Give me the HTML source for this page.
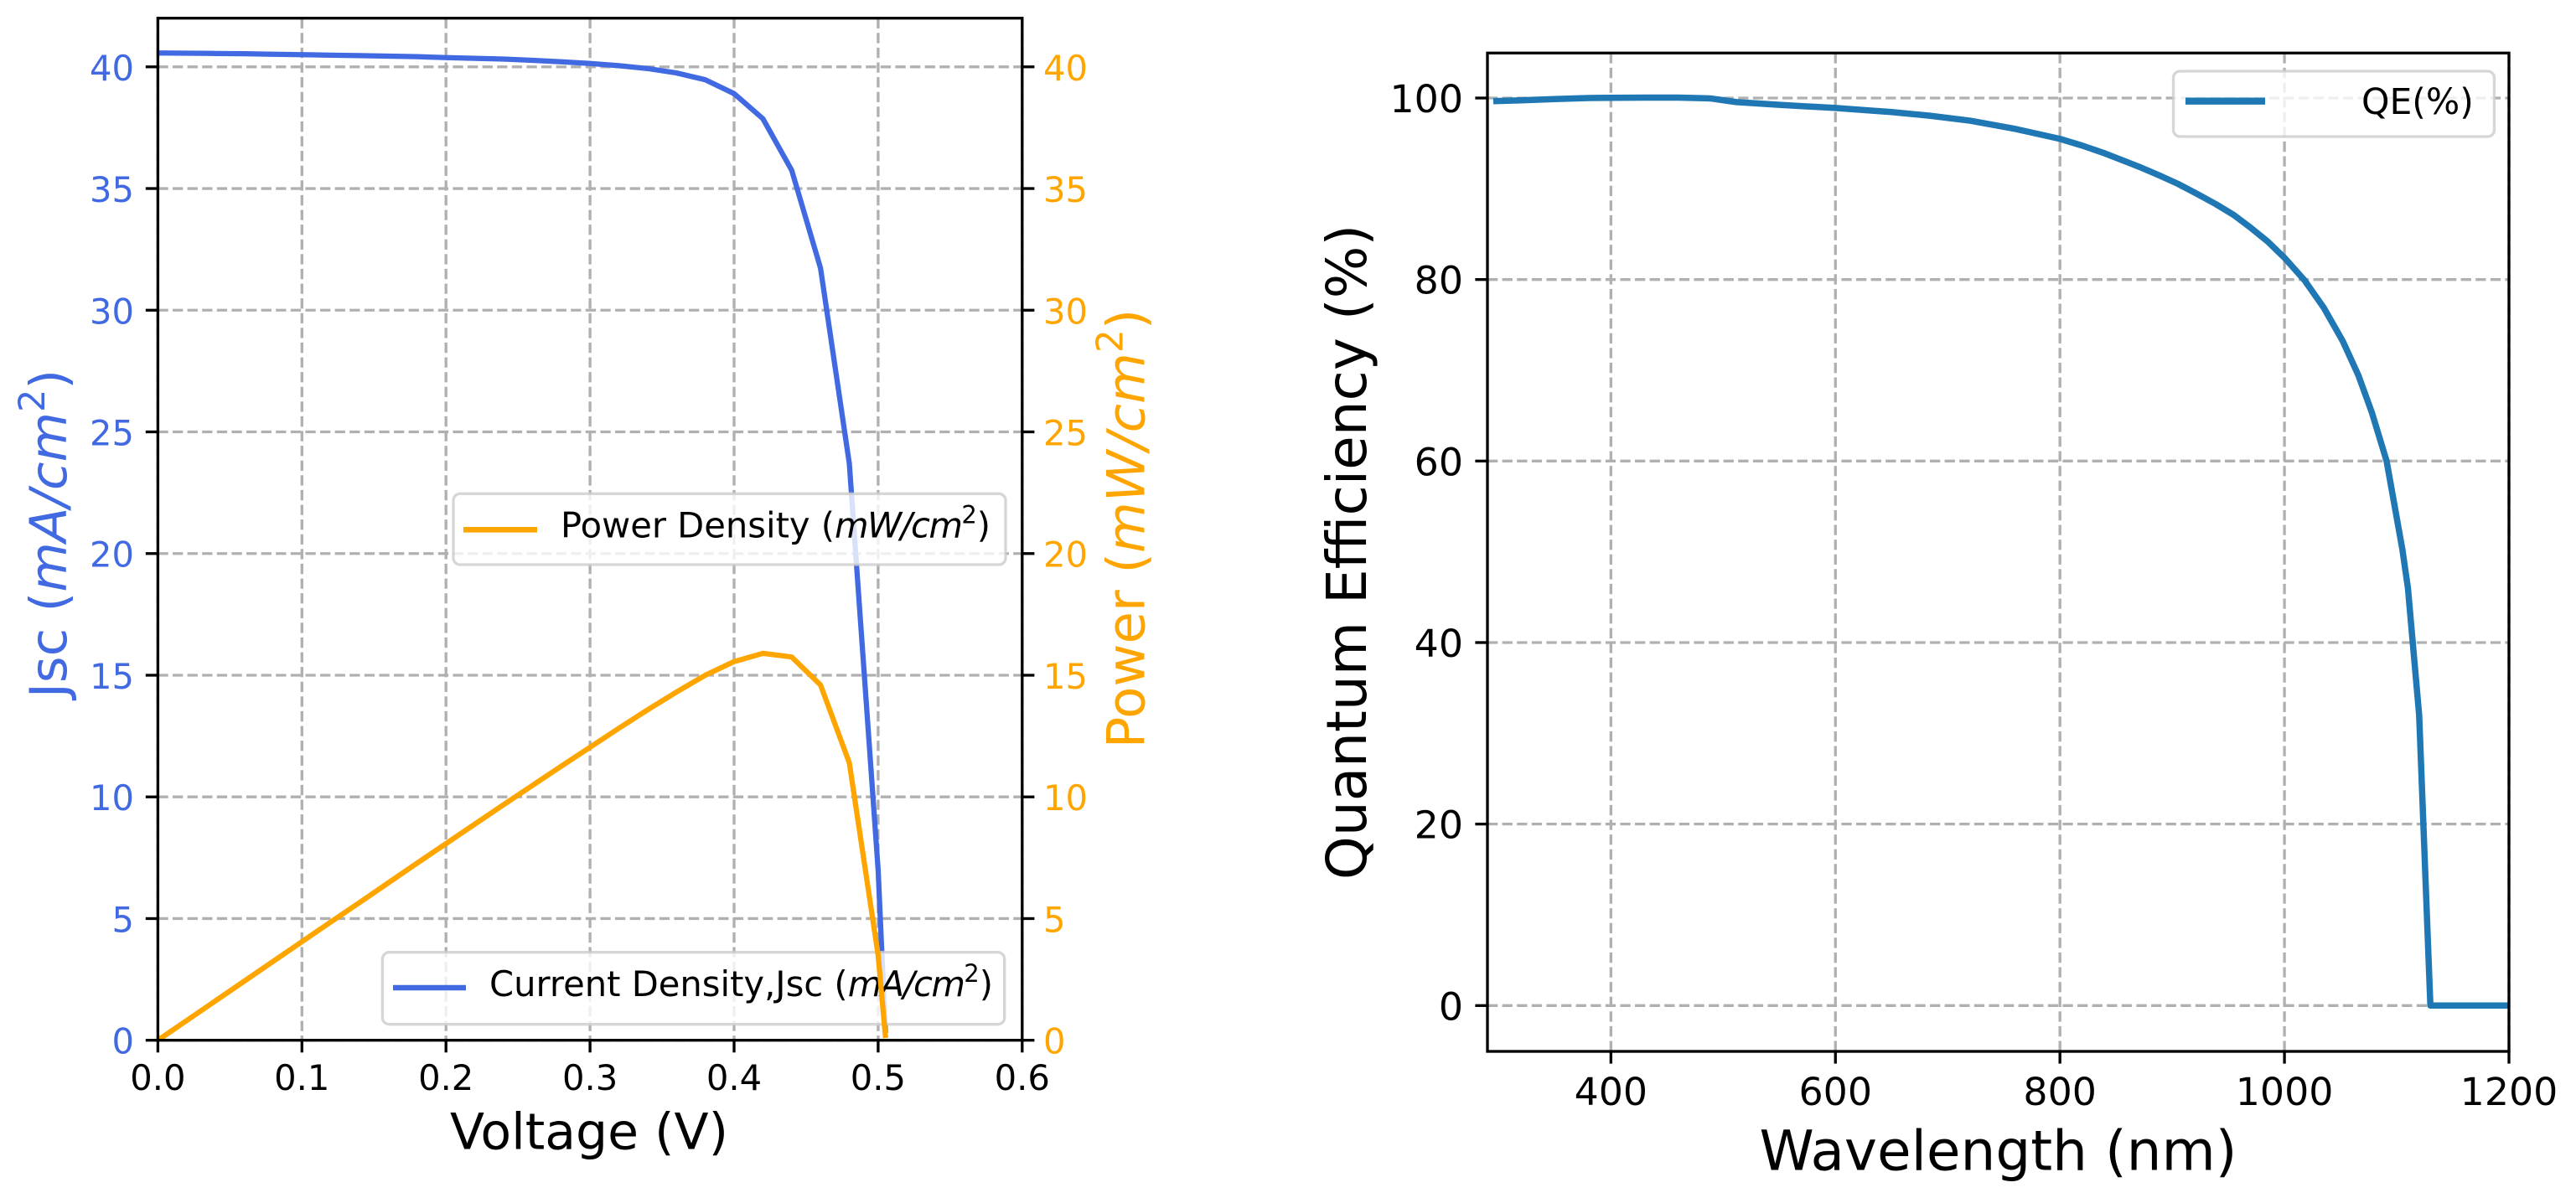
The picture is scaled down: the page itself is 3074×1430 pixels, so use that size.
<!DOCTYPE html>
<html lang="en">
<head>
<meta charset="utf-8">
<title>Current density, power density and quantum efficiency</title>
<style>
html,body{margin:0;padding:0;background:#fff;}
svg{display:block;}
text{font-family:"DejaVu Sans","Liberation Sans",sans-serif;}
.i{font-style:italic;}
.m{letter-spacing:-1.6px;}
</style>
</head>
<body>
<svg id="figure" xmlns="http://www.w3.org/2000/svg" width="3074" height="1430" viewBox="0 0 3074 1430">
  <rect x="0" y="0" width="3074" height="1430" fill="#ffffff"/>
  <defs>
    <clipPath id="clip-left"><rect x="188.4" y="21.7" width="1031.4" height="1220"/></clipPath>
    <clipPath id="clip-right"><rect x="1775" y="63.3" width="1219" height="1191.7"/></clipPath>
  </defs>

  <g id="left-chart">
    <g id="left-grid"></g>
    <g id="left-blue" clip-path="url(#clip-left)"></g>
    <g>
      <rect x="456.4" y="1136.7" width="742.3" height="86" rx="8" fill="#ffffff" fill-opacity="0.8" stroke="#cccccc" stroke-opacity="0.8" stroke-width="3.33"/>
      <line x1="469" y1="1179" x2="556" y2="1179" stroke="#4169e1" stroke-width="6.6"/>
      <text x="584" y="1189" font-size="41.67" fill="#000">Current Density,Jsc (<tspan class="i m">mA/cm</tspan><tspan font-size="29" dy="-17">2</tspan><tspan dy="17">)</tspan></text>
    </g>
    <g id="left-orange" clip-path="url(#clip-left)"></g>
    <g>
      <rect x="541" y="589.3" width="659" height="84.7" rx="8" fill="#ffffff" fill-opacity="0.8" stroke="#cccccc" stroke-opacity="0.8" stroke-width="3.33"/>
      <line x1="553" y1="632.3" x2="641" y2="632.3" stroke="#ffa500" stroke-width="6.6"/>
      <text x="669" y="641.7" font-size="41.67" fill="#000">Power Density (<tspan class="i m">mW/cm</tspan><tspan font-size="29" dy="-17">2</tspan><tspan dy="17">)</tspan></text>
    </g>
    <g id="left-axes"></g>
    <rect x="188.4" y="21.7" width="1031.4" height="1220" fill="none" stroke="#000" stroke-width="3.33"/>
    <text x="703" y="1371.7" font-size="60" text-anchor="middle" fill="#000">Voltage (V)</text>
    <text transform="translate(79,637) rotate(-90)" font-size="61" text-anchor="middle" fill="#4169e1">Jsc (<tspan class="i">mA/cm</tspan><tspan font-size="43" dy="-26">2</tspan><tspan dy="26">)</tspan></text>
    <text transform="translate(1365.5,631) rotate(-90)" font-size="62.5" text-anchor="middle" fill="#ffa500">Power (<tspan class="i">mW/cm</tspan><tspan font-size="44" dy="-26">2</tspan><tspan dy="26">)</tspan></text>
  </g>

  <g id="right-chart">
    <g id="right-grid"></g>
    <g id="right-line" clip-path="url(#clip-right)"></g>
    <g>
      <rect x="2593.5" y="85" width="383" height="78" rx="8" fill="#ffffff" fill-opacity="0.8" stroke="#cccccc" stroke-opacity="0.8" stroke-width="3.33"/>
      <line x1="2608" y1="120.7" x2="2703" y2="120.7" stroke="#1f77b4" stroke-width="8.3"/>
      <text x="2818" y="136" font-size="42.5" fill="#000">QE(%)</text>
    </g>
    <g id="right-axes"></g>
    <rect x="1775" y="63.3" width="1219" height="1191.7" fill="none" stroke="#000" stroke-width="3.33"/>
    <text x="2384.5" y="1396.7" font-size="66" text-anchor="middle" fill="#000">Wavelength (nm)</text>
    <text transform="translate(1630,659) rotate(-90)" font-size="66" text-anchor="middle" fill="#000">Quantum Efficiency (%)</text>
  </g>
</svg>

<script>
const voltage = [0,0.02,0.04,0.06,0.08,0.1,0.12,0.14,0.16,0.18,0.2,0.22,0.24,0.26,0.28,0.3,0.32,0.34,0.36,0.38,0.4,0.42,0.44,0.46,0.48,0.5,0.505];
const currentDensity = [40.57,40.56,40.55,40.54,40.52,40.5,40.48,40.46,40.44,40.42,40.38,40.35,40.32,40.27,40.21,40.14,40.05,39.93,39.75,39.47,38.9,37.87,35.75,31.73,23.7,7.0,0.4];
const powerDensity = [0,0.81,1.62,2.43,3.24,4.05,4.86,5.66,6.47,7.28,8.08,8.88,9.68,10.47,11.26,12.04,12.82,13.58,14.31,15.0,15.56,15.9,15.75,14.6,11.4,3.5,0.2];
const voltageTicks = ['0.0','0.1','0.2','0.3','0.4','0.5','0.6'];
const leftValueTicks = ['0','5','10','15','20','25','30','35','40'];
const wavelength = [298,320,350,380,400,430,460,489,512,550,600,650,684,720,760,800,820,840,871,888,905,922,939,955,970,985,1000,1018,1035,1052,1066,1078,1091,1105,1110,1120,1130,1131,1200];
const quantumEfficiency = [99.66,99.75,99.88,100,100.02,100.05,100.05,99.95,99.55,99.25,98.9,98.45,98.05,97.5,96.6,95.5,94.75,93.9,92.4,91.5,90.55,89.45,88.3,87.1,85.7,84.2,82.4,79.9,76.9,73.2,69.4,65.3,60,50.3,46,32,0,0,0];
const wavelengthTicks = ['400','600','800','1000','1200'];
const efficiencyTicks = ['0','20','40','60','80','100'];

const SVG_NS = 'http://www.w3.org/2000/svg';
const GRID_COLOR = '#b0b0b0';
const GRID_DASH = '12.3 5.3';
const SPINE = 3.33;
const TICK_LEN = 14.6;

// Axis functions
function xLeft(v){ return 188.4 + (v - 0) / 0.6 * 1031.4; }
function yLeft(v){ return 1241.7 - (v - 0) / 42 * 1220; }
function xRight(v){ return 1775 + (v - 290) / 910 * 1219; }
function yRight(v){ return 1200.3 - v * 10.833; }

function makeLine(parent, x1, y1, x2, y2, color, width, dash){
  const el = document.createElementNS(SVG_NS, 'line');
  el.setAttribute('x1', x1);
  el.setAttribute('y1', y1);
  el.setAttribute('x2', x2);
  el.setAttribute('y2', y2);
  el.setAttribute('stroke', color);
  el.setAttribute('stroke-width', width);
  if (dash) el.setAttribute('stroke-dasharray', dash);
  parent.appendChild(el);
  return el;
}
function makeText(parent, x, y, str, size, color, anchor){
  const el = document.createElementNS(SVG_NS, 'text');
  el.setAttribute('x', x);
  el.setAttribute('y', y);
  el.setAttribute('font-size', size);
  el.setAttribute('fill', color);
  el.setAttribute('text-anchor', anchor);
  el.textContent = str;
  parent.appendChild(el);
  return el;
}
function makePath(parent, xs, ys, fx, fy, color, width){
  const el = document.createElementNS(SVG_NS, 'polyline');
  el.setAttribute('points', xs.map(function(v, i){ return fx(v).toFixed(2) + ',' + fy(ys[i]).toFixed(2); }).join(' '));
  el.setAttribute('fill', 'none');
  el.setAttribute('stroke', color);
  el.setAttribute('stroke-width', width);
  el.setAttribute('stroke-linejoin', 'round');
  el.setAttribute('stroke-linecap', 'square');
  parent.appendChild(el);
  return el;
}

const leftGrid = document.getElementById('left-grid');
const leftAxes = document.getElementById('left-axes');
const rightGrid = document.getElementById('right-grid');
const rightAxes = document.getElementById('right-axes');

// Left chart grid, ticks and labels
voltageTicks.forEach(function(t){
  const x = xLeft(parseFloat(t));
  const g = makeLine(leftGrid, x, 21.7, x, 1241.7, GRID_COLOR, SPINE, GRID_DASH);
  
  
  const m = makeLine(leftAxes, x, 1241.7, x, 1241.7 + TICK_LEN, '#000', SPINE);
  
  
  const l = makeText(leftAxes, x, 1301, t, 41.67, '#000', 'middle');
  
  
});
leftValueTicks.forEach(function(t){
  const y = yLeft(parseFloat(t));
  const g = makeLine(leftGrid, 188.4, y, 1219.8, y, GRID_COLOR, SPINE, GRID_DASH);
  
  
  const m1 = makeLine(leftAxes, 188.4 - TICK_LEN, y, 188.4, y, '#000', SPINE);
  
  
  const m2 = makeLine(leftAxes, 1219.8, y, 1219.8 + TICK_LEN, y, '#000', SPINE);
  
  
  const l1 = makeText(leftAxes, 160, y + 16, t, 41.67, '#4169e1', 'end');
  
  
  const l2 = makeText(leftAxes, 1245, y + 16, t, 41.67, '#ffa500', 'start');
  
  
});

// Left chart series
const jscLine = makePath(document.getElementById('left-blue'), voltage, currentDensity, xLeft, yLeft, '#4169e1', 6.25);


const powerLine = makePath(document.getElementById('left-orange'), voltage, powerDensity, xLeft, yLeft, '#ffa500', 6.25);



// Right chart grid, ticks and labels
wavelengthTicks.forEach(function(t){
  const x = xRight(parseFloat(t));
  const g = makeLine(rightGrid, x, 63.3, x, 1255, GRID_COLOR, SPINE, GRID_DASH);
  
  
  const m = makeLine(rightAxes, x, 1255, x, 1255 + TICK_LEN, '#000', SPINE);
  
  
  const l = makeText(rightAxes, x, 1319, t, 45.83, '#000', 'middle');
  
  
});
efficiencyTicks.forEach(function(t){
  const y = yRight(parseFloat(t));
  const g = makeLine(rightGrid, 1775, y, 2994, y, GRID_COLOR, SPINE, GRID_DASH);
  
  
  const m = makeLine(rightAxes, 1775 - TICK_LEN, y, 1775, y, '#000', SPINE);
  
  
  const l = makeText(rightAxes, 1746, y + 17, t, 45.83, '#000', 'end');
  
  
});

// Right chart series
const qeLine = makePath(document.getElementById('right-line'), wavelength, quantumEfficiency, xRight, yRight, '#1f77b4', 7.5);


</script>
</body>
</html>
